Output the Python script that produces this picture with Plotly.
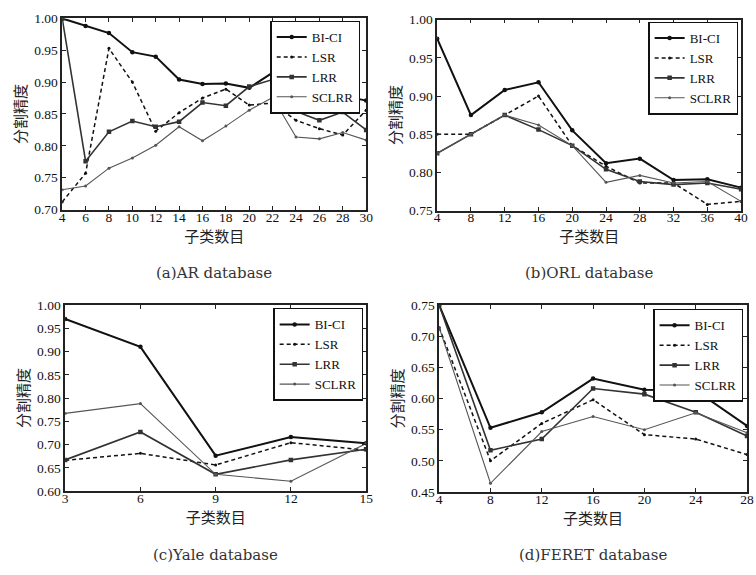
import plotly.graph_objects as go

W, H = 756, 575

methods = ["BI-CI", "LSR", "LRR", "SCLRR"]

# (a) AR database
ar_x = [4, 6, 8, 10, 12, 14, 16, 18, 20, 22, 24, 26, 28, 30]
ar_bici = [1.000, 0.988, 0.977, 0.947, 0.940, 0.904, 0.897, 0.898, 0.891, 0.915, 0.864, 0.854, 0.879, 0.871]
ar_lsr = [0.712, 0.757, 0.953, 0.900, 0.823, 0.852, 0.875, 0.889, 0.864, 0.867, 0.840, 0.827, 0.817, 0.856]
ar_lrr = [1.000, 0.776, 0.822, 0.839, 0.830, 0.838, 0.868, 0.863, 0.893, 0.904, 0.854, 0.840, 0.853, 0.825]
ar_sclrr = [0.731, 0.737, 0.765, 0.781, 0.801, 0.830, 0.808, 0.831, 0.856, 0.876, 0.814, 0.811, 0.821, 0.809]

# (b) ORL database
orl_x = [4, 8, 12, 16, 20, 24, 28, 32, 36, 40]
orl_bici = [0.975, 0.875, 0.908, 0.918, 0.855, 0.812, 0.818, 0.790, 0.791, 0.780]
orl_lsr = [0.850, 0.850, 0.875, 0.900, 0.835, 0.808, 0.786, 0.786, 0.758, 0.762]
orl_lrr = [0.825, 0.850, 0.875, 0.856, 0.835, 0.804, 0.788, 0.784, 0.786, 0.778]
orl_sclrr = [0.825, 0.850, 0.875, 0.862, 0.835, 0.787, 0.796, 0.786, 0.788, 0.762]

# (c) Yale database
yale_x = [3, 6, 9, 12, 15]
yale_bici = [0.970, 0.910, 0.676, 0.716, 0.703]
yale_lsr = [0.666, 0.681, 0.656, 0.704, 0.688]
yale_lrr = [0.667, 0.727, 0.636, 0.667, 0.690]
yale_sclrr = [0.767, 0.788, 0.636, 0.621, 0.702]

# (d) FERET database
feret_x = [4, 8, 12, 16, 20, 24, 28]
feret_bici = [0.750, 0.553, 0.578, 0.632, 0.614, 0.613, 0.556]
feret_lsr = [0.714, 0.500, 0.560, 0.598, 0.542, 0.535, 0.510]
feret_lrr = [0.750, 0.517, 0.535, 0.616, 0.607, 0.578, 0.540]
feret_sclrr = [0.714, 0.464, 0.547, 0.571, 0.550, 0.577, 0.545]

captions = ["(a)AR database", "(b)ORL database", "(c)Yale database", "(d)FERET database"]
xlabel = "子类数目"
ylabel = "分割精度"

panels = [
    dict(x=ar_x, ys=[ar_bici, ar_lsr, ar_lrr, ar_sclrr], xr=[4, 30], dx=2, yr=[0.70, 1.00],
         box=(60, 368, 11.7, 208), leg=(362, 14), cap=273),
    dict(x=orl_x, ys=[orl_bici, orl_lsr, orl_lrr, orl_sclrr], xr=[4, 40], dx=4, yr=[0.75, 1.00],
         box=(440, 748, 13, 209), leg=(745, 15), cap=273),
    dict(x=yale_x, ys=[yale_bici, yale_lsr, yale_lrr, yale_sclrr], xr=[3, 15], dx=3, yr=[0.60, 1.00],
         box=(63, 368, 306, 497), leg=(365, 309), cap=563),
    dict(x=feret_x, ys=[feret_bici, feret_lsr, feret_lrr, feret_sclrr], xr=[4, 28], dx=4, yr=[0.45, 0.75],
         box=(442, 754, 306, 498), leg=(750, 310), cap=563),
]

styles = [
    dict(line=dict(color="#111111", width=2.0), marker=dict(symbol="circle", size=4.5, color="#111111")),
    dict(line=dict(color="#111111", width=1.5, dash="4px,3px"), marker=dict(symbol="circle", size=3, color="#111111")),
    dict(line=dict(color="#333333", width=1.6), marker=dict(symbol="square", size=4.5, color="#333333")),
    dict(line=dict(color="#555555", width=1.1), marker=dict(symbol="circle", size=3, color="#555555")),
]

SERIF = "Liberation Serif"
CAPFONT = "DejaVu Serif"
CJK = "Noto Sans CJK SC"

fig = go.Figure()
layout = dict(width=W, height=H, margin=dict(l=0, r=0, t=0, b=0),
              paper_bgcolor="white", plot_bgcolor="white", annotations=[])

for i, p in enumerate(panels):
    n = "" if i == 0 else str(i + 1)
    x0, x1, y0, y1 = p["box"]
    legname = "legend" if i == 0 else f"legend{i+1}"
    for j, m in enumerate(methods):
        fig.add_trace(go.Scatter(x=p["x"], y=p["ys"][j], name=m, mode="lines+markers",
                                 xaxis="x" + n, yaxis="y" + n, legend=legname,
                                 line=styles[j]["line"], marker=styles[j]["marker"]))
    layout["xaxis" + n] = dict(domain=[x0 / W, x1 / W], range=p["xr"], dtick=p["dx"], tick0=p["xr"][0],
                               anchor="y" + n, showgrid=False, zeroline=False, ticks="inside", ticklen=4,
                               tickcolor="#222", showline=True, linecolor="#222", linewidth=1.5,
                               mirror="allticks", tickfont=dict(family=SERIF, size=13.5, color="#111"),
                               ticklabelstandoff=-6,
                               title=dict(text=xlabel, font=dict(family=CJK, size=15, color="#222"), standoff=4))
    layout["yaxis" + n] = dict(domain=[1 - y1 / H, 1 - y0 / H], range=p["yr"], dtick=0.05, tickformat=".2f",
                               anchor="x" + n, showgrid=False, zeroline=False, ticks="inside", ticklen=4,
                               tickcolor="#222", showline=True, linecolor="#222", linewidth=1.5,
                               mirror="allticks", tickfont=dict(family=SERIF, size=13.5, color="#111"),
                               title=dict(text=ylabel, font=dict(family=CJK, size=15, color="#222"), standoff=4))
    lx, ly = p["leg"]
    layout[legname] = dict(x=lx / W, y=1 - ly / H, xanchor="right", yanchor="top", xref="paper", yref="paper",
                           bgcolor="white", bordercolor="#111", borderwidth=1.5,
                           font=dict(family=SERIF, size=13, color="#111"), tracegroupgap=0,
                           itemwidth=30)
    layout["annotations"].append(dict(text=captions[i], x=(x0 + x1) / 2 / W, y=1 - p["cap"] / H,
                                      xref="paper", yref="paper", showarrow=False,
                                      xanchor="center", yanchor="middle",
                                      font=dict(family=CAPFONT, size=15, color="#333")))

fig.update_layout(**layout)
fig.write_html("out.html")
